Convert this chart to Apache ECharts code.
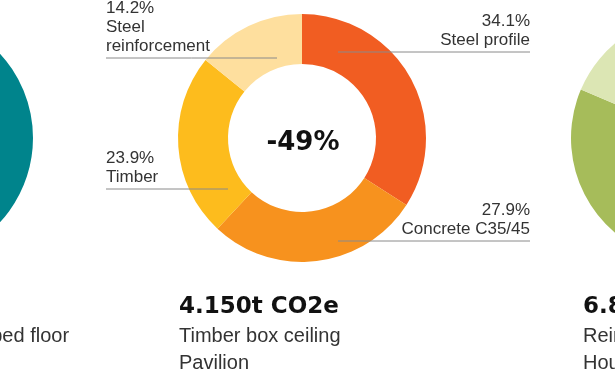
<!DOCTYPE html>
<html><head><meta charset="utf-8">
<script src="https://cdn.jsdelivr.net/npm/echarts@6/dist/echarts.min.js"></script>
<style>html,body{margin:0;padding:0;background:#fff}#c{width:615px;height:375px}</style>
</head><body><div id="c"></div>
<script>
// ---- data ----
const materials = ['Steel profile', 'Concrete C35/45', 'Timber', 'Steel\nreinforcement'];
const shares = [34.1, 27.9, 23.9, 14.2];
const materialColors = ['#F15D22', '#F7921E', '#FDBC1D', '#FEDF9E'];
const centerChange = '-49%';
const leftShares = [45, 30, 25];
const leftColors = ['#00848C', '#3FA3A8', '#9ACFD1'];
const rightShares = [55, 26.4, 18.6];
const rightColors = ['#6F8E3A', '#A6BC5A', '#DCE6B4'];
const totals = ['8.140t CO2e', '4.150t CO2e', '6.850t CO2e'];
const projects = [
  ['Lightweight concrete ribbed floor', 'Office'],
  ['Timber box ceiling', 'Pavilion'],
  ['Reinforced concrete', 'House']
];

// ---- layout (annotation geometry) ----
const pieCenters = [[-91, 138], [302, 138], [695, 138]];
const radius = [74, 124];
const columnX = [-220, 179, 583];
const labelGuides = [
  { side: 'right', textX: 530, lineY: 52, innerX: 338 },
  { side: 'right', textX: 530, lineY: 241, innerX: 338 },
  { side: 'left', textX: 106, lineY: 189, innerX: 228 },
  { side: 'left', textX: 106, lineY: 58, innerX: 277 }
];

const chart = echarts.init(document.getElementById('c'), null, { renderer: 'canvas' });

function sidePie(center, vals, cols) {
  return {
    type: 'pie', center: center, radius: radius, startAngle: 90, clockwise: true,
    silent: true, z: 2, label: { show: false }, labelLine: { show: false },
    data: vals.map((v, i) => ({ value: v, itemStyle: { color: cols[i] } }))
  };
}

const graphics = [{
  type: 'text', x: 303, y: 143, silent: true,
  style: { text: centerChange, font: 'bold 26px "DejaVu Sans"', fill: '#111', textAlign: 'center', textVerticalAlign: 'middle' }
}];
columnX.forEach((x, i) => {
  graphics.push({ type: 'text', x: x, y: 307.5, silent: true,
    style: { text: totals[i], font: 'bold 23px "DejaVu Sans"', fill: '#111', textAlign: 'left', textVerticalAlign: 'middle' } });
  projects[i].forEach((line, j) => {
    graphics.push({ type: 'text', x: x, y: 336.5 + j * 27, silent: true,
      style: { text: line, font: '20px "Liberation Sans"', fill: '#333', textAlign: 'left', textVerticalAlign: 'middle' } });
  });
});

chart.setOption({
  animation: false,
  backgroundColor: '#fff',
  series: [
    sidePie(pieCenters[0], leftShares, leftColors),
    sidePie(pieCenters[2], rightShares, rightColors),
    {
      // visible donut
      type: 'pie', center: pieCenters[1], radius: radius, startAngle: 90, clockwise: true,
      silent: true, z: 2,
      data: shares.map((v, i) => ({ name: materials[i], value: v, itemStyle: { color: materialColors[i] } })),
      label: { show: false }, labelLine: { show: false }
    },
    {
      // same data, transparent sectors, carries labels and leader lines above the ring
      type: 'pie', center: pieCenters[1], radius: radius, startAngle: 90, clockwise: true,
      silent: true, z: 5,
      data: shares.map((v, i) => ({ name: materials[i], value: v, itemStyle: { color: 'rgba(0,0,0,0)' } })),
      label: {
        show: true, position: 'outside',
        formatter: p => p.value.toFixed(1) + '%\n' + p.name,
        fontFamily: 'Liberation Sans', fontSize: 17, lineHeight: 19, color: '#333'
      },
      labelLine: { show: true, lineStyle: { color: '#8a8a8a', width: 1 } },
      labelLayout: function (p) {
        const g = labelGuides[p.dataIndex];
        return {
          x: g.textX, y: g.lineY - 2,
          align: g.side === 'right' ? 'right' : 'left',
          verticalAlign: 'bottom',
          labelLinePoints: [[g.innerX, g.lineY], [(g.innerX + g.textX) / 2, g.lineY], [g.textX, g.lineY]]
        };
      }
    }
  ],
  graphic: graphics
});
</script></body></html>
